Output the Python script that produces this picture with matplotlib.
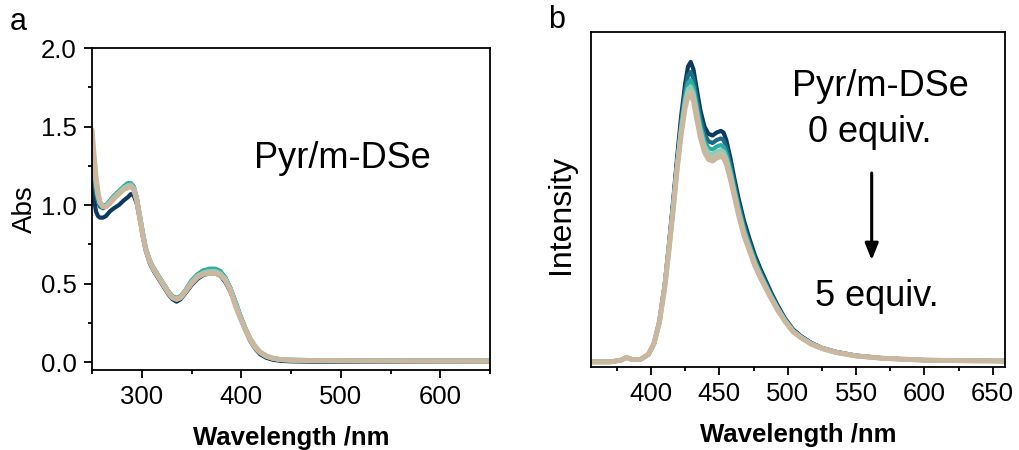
import matplotlib
matplotlib.use("Agg")
import matplotlib.pyplot as plt
from matplotlib.ticker import MultipleLocator, NullLocator

plt.rcParams['font.family'] = ['Liberation Sans', 'DejaVu Sans']

# ---- panel a: UV-vis absorption ----
wl_abs = [250, 252, 254, 256, 258, 261, 264, 268, 272, 277, 282, 286, 289, 292, 295,
          298, 301, 304, 308, 312, 317, 322, 327, 331, 335, 339, 344, 350, 356, 362,
          368, 374, 379, 384, 389, 394, 399, 404, 409, 414, 419, 425, 432, 440, 450,
          470, 500, 550, 600, 650]
abs_0 = [1.20, 1.04, 0.96, 0.93, 0.92, 0.92, 0.93, 0.96, 0.98, 1.00, 1.03, 1.05, 1.07, 1.06, 1.01,
         0.91, 0.80, 0.71, 0.63, 0.58, 0.53, 0.48, 0.43, 0.40, 0.385, 0.40, 0.44, 0.49, 0.53, 0.555,
         0.565, 0.565, 0.55, 0.51, 0.45, 0.37, 0.285, 0.205, 0.135, 0.085, 0.05, 0.028, 0.015, 0.008, 0.005,
         0.003, 0.002, 0.002, 0.003, 0.004]
abs_1 = [1.30, 1.16, 1.07, 1.02, 0.99, 0.98, 0.99, 1.02, 1.05, 1.08, 1.11, 1.13, 1.13, 1.11, 1.04,
         0.93, 0.82, 0.725, 0.645, 0.595, 0.545, 0.495, 0.445, 0.415, 0.405, 0.415, 0.455, 0.515, 0.555, 0.58,
         0.59, 0.59, 0.575, 0.535, 0.47, 0.385, 0.295, 0.215, 0.145, 0.095, 0.06, 0.036, 0.022, 0.015, 0.012,
         0.010, 0.009, 0.009, 0.009, 0.009]
abs_2 = [1.38, 1.22, 1.11, 1.04, 1.01, 1.00, 1.00, 1.03, 1.06, 1.09, 1.12, 1.14, 1.14, 1.12, 1.05,
         0.94, 0.83, 0.73, 0.65, 0.60, 0.55, 0.50, 0.45, 0.42, 0.41, 0.42, 0.46, 0.52, 0.56, 0.585,
         0.595, 0.595, 0.58, 0.54, 0.475, 0.39, 0.30, 0.22, 0.15, 0.10, 0.065, 0.04, 0.025, 0.018, 0.015,
         0.013, 0.012, 0.012, 0.012, 0.012]
abs_3 = [1.42, 1.26, 1.14, 1.06, 1.01, 0.99, 0.99, 1.02, 1.05, 1.08, 1.11, 1.125, 1.13, 1.11, 1.04,
         0.93, 0.82, 0.725, 0.645, 0.595, 0.545, 0.495, 0.445, 0.415, 0.405, 0.415, 0.455, 0.51, 0.55, 0.57,
         0.58, 0.58, 0.565, 0.53, 0.465, 0.38, 0.29, 0.21, 0.145, 0.095, 0.062, 0.038, 0.024, 0.016, 0.013,
         0.011, 0.010, 0.010, 0.010, 0.010]
abs_4 = [1.45, 1.29, 1.16, 1.07, 1.015, 0.99, 0.99, 1.015, 1.045, 1.075, 1.105, 1.115, 1.12, 1.10, 1.03,
         0.925, 0.815, 0.72, 0.64, 0.59, 0.54, 0.49, 0.44, 0.41, 0.40, 0.41, 0.45, 0.505, 0.545, 0.565,
         0.57, 0.57, 0.56, 0.525, 0.46, 0.37, 0.285, 0.205, 0.14, 0.09, 0.06, 0.037, 0.023, 0.015, 0.012,
         0.010, 0.009, 0.008, 0.008, 0.008]
abs_5 = [1.48, 1.32, 1.18, 1.08, 1.02, 0.99, 0.99, 1.01, 1.04, 1.07, 1.10, 1.11, 1.12, 1.10, 1.03,
         0.92, 0.81, 0.72, 0.64, 0.59, 0.54, 0.49, 0.44, 0.41, 0.40, 0.41, 0.45, 0.50, 0.54, 0.56,
         0.565, 0.565, 0.555, 0.52, 0.46, 0.36, 0.28, 0.21, 0.15, 0.10, 0.065, 0.04, 0.025, 0.017, 0.013,
         0.010, 0.008, 0.007, 0.006, 0.006]

# ---- panel b: fluorescence ----
wl_em = [356, 370, 378, 382, 386, 392, 398, 402, 406, 410, 413, 416, 419, 422, 425, 427,
         429, 431, 433, 436, 439, 442, 445, 448, 451, 453, 455, 458, 461, 464, 468, 472,
         476, 480, 484, 488, 493, 498, 504, 510, 517, 525, 535, 550, 570, 600, 630, 659]
em_0 = [0.0, 0.0, 0.006, 0.014, 0.008, 0.008, 0.025, 0.06, 0.135, 0.26, 0.39, 0.53, 0.68, 0.82, 0.93, 0.985,
        1.0, 0.975, 0.92, 0.84, 0.785, 0.76, 0.755, 0.765, 0.77, 0.765, 0.74, 0.68, 0.61, 0.545, 0.47, 0.41,
        0.355, 0.31, 0.27, 0.23, 0.185, 0.145, 0.108, 0.085, 0.064, 0.047, 0.034, 0.021, 0.012, 0.006, 0.004, 0.003]
em_1 = [0.0, 0.0, 0.006, 0.015, 0.008, 0.008, 0.025, 0.06, 0.134, 0.257, 0.384, 0.521, 0.668, 0.802, 0.906, 0.955,
        0.967, 0.944, 0.89, 0.813, 0.76, 0.735, 0.73, 0.74, 0.745, 0.74, 0.716, 0.659, 0.592, 0.529, 0.455, 0.398,
        0.345, 0.301, 0.263, 0.224, 0.18, 0.142, 0.106, 0.084, 0.063, 0.046, 0.033, 0.021, 0.012, 0.006, 0.004, 0.003]
em_2 = [0.0, 0.0, 0.006, 0.015, 0.008, 0.008, 0.025, 0.06, 0.132, 0.255, 0.379, 0.514, 0.658, 0.787, 0.886, 0.93,
        0.94, 0.917, 0.865, 0.79, 0.738, 0.713, 0.708, 0.718, 0.723, 0.718, 0.696, 0.642, 0.577, 0.515, 0.443, 0.388,
        0.336, 0.294, 0.256, 0.219, 0.177, 0.14, 0.104, 0.082, 0.062, 0.046, 0.033, 0.02, 0.012, 0.006, 0.004, 0.003]
em_3 = [0.0, 0.0, 0.006, 0.015, 0.008, 0.008, 0.025, 0.06, 0.131, 0.253, 0.375, 0.508, 0.65, 0.775, 0.87, 0.91,
        0.918, 0.896, 0.845, 0.773, 0.721, 0.696, 0.691, 0.701, 0.706, 0.701, 0.68, 0.628, 0.565, 0.504, 0.433, 0.38,
        0.329, 0.288, 0.251, 0.215, 0.174, 0.138, 0.102, 0.081, 0.061, 0.045, 0.032, 0.02, 0.012, 0.006, 0.004, 0.003]
em_4 = [0.0, 0.0, 0.006, 0.015, 0.008, 0.008, 0.025, 0.06, 0.13, 0.251, 0.372, 0.503, 0.644, 0.766, 0.858, 0.895,
        0.901, 0.88, 0.83, 0.759, 0.709, 0.684, 0.679, 0.689, 0.694, 0.689, 0.668, 0.617, 0.556, 0.496, 0.425, 0.374,
        0.324, 0.283, 0.248, 0.212, 0.172, 0.136, 0.101, 0.08, 0.06, 0.045, 0.032, 0.02, 0.012, 0.006, 0.004, 0.003]
em_5 = [0.0, 0.0, 0.006, 0.015, 0.008, 0.008, 0.025, 0.06, 0.13, 0.25, 0.37, 0.50, 0.64, 0.76, 0.85, 0.885,
        0.89, 0.87, 0.82, 0.75, 0.70, 0.675, 0.67, 0.68, 0.685, 0.68, 0.66, 0.61, 0.55, 0.49, 0.42, 0.37,
        0.32, 0.28, 0.245, 0.21, 0.17, 0.135, 0.10, 0.08, 0.06, 0.045, 0.032, 0.02, 0.012, 0.006, 0.004, 0.003]

colors = ["#0d3a60", "#1c6c85", "#2aaca3", "#8ccbb6", "#b9c4ab", "#c9b79f"]
widths = [3.0, 3.0, 3.0, 3.2, 3.4, 3.6]

fig = plt.figure(figsize=(10.2, 4.5), dpi=100)
ax1 = fig.add_axes([0.0902, 0.1778, 0.3902, 0.7155])
ax2 = fig.add_axes([0.5794, 0.1844, 0.4059, 0.7445])

for y, c, lw in zip([abs_0, abs_1, abs_2, abs_3, abs_4, abs_5], colors, widths):
    ax1.plot(wl_abs, y, color=c, lw=lw, solid_capstyle="round", solid_joinstyle="round")
for y, c, lw in zip([em_0, em_1, em_2, em_3, em_4, em_5], colors, widths):
    ax2.plot(wl_em, y, color=c, lw=lw, solid_capstyle="round", solid_joinstyle="round")

ax1.set_xlim(250, 650)
ax1.set_ylim(-0.05, 2.0)
ax1.xaxis.set_major_locator(MultipleLocator(100))
ax1.xaxis.set_minor_locator(MultipleLocator(50))
ax1.yaxis.set_major_locator(MultipleLocator(0.5))
ax1.yaxis.set_minor_locator(MultipleLocator(0.25))
ax1.set_xticks([300, 400, 500, 600])
ax1.set_yticks([0.0, 0.5, 1.0, 1.5, 2.0])
ax1.set_yticklabels(["0.0", "0.5", "1.0", "1.5", "2.0"])

ax2.set_xlim(356, 659)
ax2.set_ylim(-0.017, 1.1)
ax2.xaxis.set_major_locator(MultipleLocator(50))
ax2.xaxis.set_minor_locator(MultipleLocator(25))
ax2.yaxis.set_major_locator(NullLocator())
ax2.yaxis.set_minor_locator(NullLocator())

for ax in (ax1, ax2):
    for s in ax.spines.values():
        s.set_linewidth(1.3)
    ax.tick_params(which="major", direction="out", length=6, width=1.3, labelsize=18.5, pad=5)
    ax.tick_params(which="minor", direction="out", length=3, width=1.3)
    ax.set_xlabel("Wavelength /nm", fontsize=18.5, fontweight="bold", labelpad=12)

ax1.set_ylabel("Abs", fontsize=20)
ax1.yaxis.set_label_coords(-0.135, 0.5)
ax2.set_ylabel("Intensity", fontsize=23)
ax2.yaxis.set_label_coords(-0.035, 0.455)

ax1.text(0.628, 0.658, "Pyr/m-DSe", transform=ax1.transAxes, fontsize=26,
         ha="center", va="center")
ax2.text(0.698, 0.836, "Pyr/m-DSe", transform=ax2.transAxes, fontsize=26,
         ha="center", va="center")
ax2.text(0.674, 0.699, "0 equiv.", transform=ax2.transAxes, fontsize=26,
         ha="center", va="center")
ax2.text(0.691, 0.209, "5 equiv.", transform=ax2.transAxes, fontsize=26,
         ha="center", va="center")
ax2.annotate("", xy=(0.678, 0.319), xytext=(0.678, 0.579),
             xycoords="axes fraction", textcoords="axes fraction",
             arrowprops=dict(arrowstyle="-|>,head_length=1.0,head_width=0.4",
                             color="black", lw=2.2, shrinkA=0, shrinkB=0))

fig.text(0.018, 0.951, "a", fontsize=22, ha="center", va="center")
fig.text(0.546, 0.956, "b", fontsize=22, ha="center", va="center")

fig.savefig("out.png", dpi=100)
